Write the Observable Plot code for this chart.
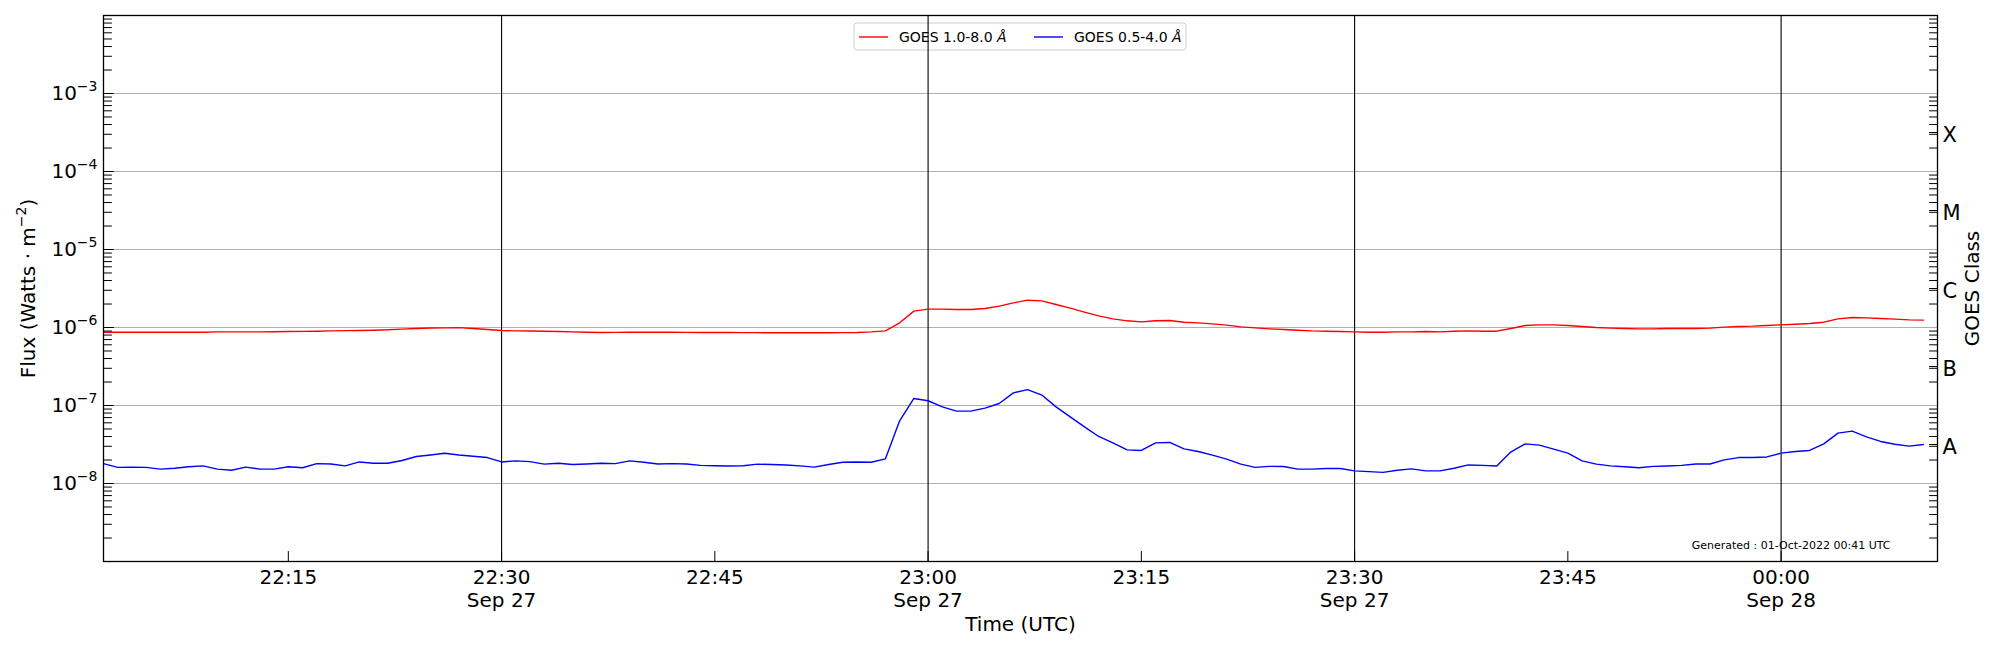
<!DOCTYPE html>
<html>
<head>
<meta charset="utf-8">
<script src="https://cdn.jsdelivr.net/npm/d3@7"></script>
<script src="https://cdn.jsdelivr.net/npm/@observablehq/plot@0.6"></script>
<style>
html, body { margin: 0; padding: 0; background: #ffffff; }
#chart { width: 2000px; height: 650px; }
</style>
</head>
<body>
<div id="chart"></div>
<script>
// ---------- data ----------
const startTime = "2022-09-27T22:02:00Z";   // first 1-minute sample
const xDomain = ["2022-09-27T22:02:00Z", "2022-09-28T00:11:00Z"];

// GOES 1.0-8.0 Å (W/m^2), one value per minute
const goesLong = [
  0.871e-6, 0.871e-6, 0.871e-6, 0.871e-6, 0.871e-6, 0.871e-6, 0.871e-6, 0.871e-6,
  0.880e-6, 0.880e-6, 0.880e-6, 0.880e-6, 0.884e-6, 0.889e-6, 0.893e-6, 0.897e-6,
  0.906e-6, 0.911e-6, 0.915e-6, 0.924e-6, 0.934e-6, 0.953e-6, 0.971e-6, 0.985e-6,
  0.990e-6, 0.995e-6, 0.971e-6, 0.943e-6, 0.915e-6, 0.906e-6, 0.902e-6, 0.897e-6,
  0.889e-6, 0.880e-6, 0.871e-6, 0.863e-6, 0.867e-6, 0.871e-6, 0.871e-6, 0.871e-6,
  0.871e-6, 0.867e-6, 0.863e-6, 0.863e-6, 0.863e-6, 0.859e-6, 0.859e-6, 0.855e-6,
  0.855e-6, 0.855e-6, 0.855e-6, 0.855e-6, 0.859e-6, 0.863e-6, 0.880e-6, 0.906e-6,
  1.148e-6, 1.620e-6, 1.718e-6, 1.718e-6, 1.701e-6, 1.701e-6, 1.752e-6, 1.877e-6,
  2.071e-6, 2.240e-6, 2.197e-6, 1.972e-6, 1.770e-6, 1.573e-6, 1.411e-6, 1.291e-6,
  1.218e-6, 1.182e-6, 1.218e-6, 1.229e-6, 1.170e-6, 1.148e-6, 1.114e-6, 1.071e-6,
  1.020e-6, 0.990e-6, 0.961e-6, 0.943e-6, 0.924e-6, 0.906e-6, 0.897e-6, 0.889e-6,
  0.880e-6, 0.871e-6, 0.871e-6, 0.880e-6, 0.880e-6, 0.889e-6, 0.880e-6, 0.897e-6,
  0.906e-6, 0.897e-6, 0.897e-6, 0.971e-6, 1.061e-6, 1.082e-6, 1.082e-6, 1.061e-6,
  1.030e-6, 1.000e-6, 0.981e-6, 0.971e-6, 0.961e-6, 0.961e-6, 0.971e-6, 0.971e-6,
  0.971e-6, 0.981e-6, 1.010e-6, 1.030e-6, 1.040e-6, 1.061e-6, 1.082e-6, 1.103e-6,
  1.125e-6, 1.170e-6, 1.291e-6, 1.343e-6, 1.330e-6, 1.304e-6, 1.279e-6, 1.254e-6,
  1.242e-6
];

// GOES 0.5-4.0 Å (W/m^2), one value per minute
const goesShort = [
  1.80e-8, 1.61e-8, 1.62e-8, 1.61e-8, 1.53e-8, 1.57e-8, 1.64e-8, 1.68e-8,
  1.53e-8, 1.48e-8, 1.62e-8, 1.53e-8, 1.53e-8, 1.64e-8, 1.59e-8, 1.80e-8,
  1.78e-8, 1.68e-8, 1.89e-8, 1.82e-8, 1.82e-8, 1.97e-8, 2.22e-8, 2.32e-8,
  2.44e-8, 2.32e-8, 2.24e-8, 2.15e-8, 1.89e-8, 1.95e-8, 1.91e-8, 1.77e-8,
  1.82e-8, 1.75e-8, 1.78e-8, 1.82e-8, 1.80e-8, 1.95e-8, 1.87e-8, 1.78e-8,
  1.80e-8, 1.78e-8, 1.71e-8, 1.69e-8, 1.68e-8, 1.69e-8, 1.77e-8, 1.75e-8,
  1.73e-8, 1.68e-8, 1.62e-8, 1.75e-8, 1.87e-8, 1.89e-8, 1.87e-8, 2.07e-8,
  6.36e-8, 12.3e-8, 11.5e-8, 9.61e-8, 8.46e-8, 8.46e-8, 9.24e-8, 10.6e-8,
  14.5e-8, 16.0e-8, 13.6e-8, 9.61e-8, 7.16e-8, 5.33e-8, 4.01e-8, 3.32e-8,
  2.70e-8, 2.65e-8, 3.32e-8, 3.36e-8, 2.78e-8, 2.57e-8, 2.31e-8, 2.05e-8,
  1.77e-8, 1.61e-8, 1.66e-8, 1.65e-8, 1.53e-8, 1.53e-8, 1.56e-8, 1.56e-8,
  1.45e-8, 1.42e-8, 1.39e-8, 1.48e-8, 1.54e-8, 1.45e-8, 1.45e-8, 1.57e-8,
  1.73e-8, 1.71e-8, 1.68e-8, 2.55e-8, 3.22e-8, 3.10e-8, 2.76e-8, 2.45e-8,
  1.95e-8, 1.77e-8, 1.68e-8, 1.64e-8, 1.59e-8, 1.66e-8, 1.68e-8, 1.71e-8,
  1.78e-8, 1.78e-8, 2.01e-8, 2.15e-8, 2.15e-8, 2.19e-8, 2.45e-8, 2.57e-8,
  2.65e-8, 3.22e-8, 4.42e-8, 4.69e-8, 3.97e-8, 3.46e-8, 3.19e-8, 3.01e-8,
  3.16e-8
];

const seriesLabels = ["GOES 1.0-8.0 ", "GOES 0.5-4.0 "];
const seriesColors = ["#ff0000", "#0000ff"];

const xTicks = [
  "2022-09-27T22:15:00Z", "2022-09-27T22:30:00Z", "2022-09-27T22:45:00Z",
  "2022-09-27T23:00:00Z", "2022-09-27T23:15:00Z", "2022-09-27T23:30:00Z",
  "2022-09-27T23:45:00Z", "2022-09-28T00:00:00Z"
];
const xTickLabels = ["22:15", "22:30\nSep 27", "22:45", "23:00\nSep 27", "23:15", "23:30\nSep 27", "23:45", "00:00\nSep 28"];
const xGridTimes = ["2022-09-27T22:30:00Z", "2022-09-27T23:00:00Z", "2022-09-27T23:30:00Z", "2022-09-28T00:00:00Z"];

const yDomain = [1e-9, 1e-2];
const yMajor = [1e-8, 1e-7, 1e-6, 1e-5, 1e-4, 1e-3];
const decadeExponents = [-9, -8, -7, -6, -5, -4, -3];
const minorSubs = [2, 3, 4, 5, 6, 7, 8, 9];

const classLabels = ["A", "B", "C", "M", "X"];
const classExponents = [-7.5, -6.5, -5.5, -4.5, -3.5];

// ---------- tables built from the arrays ----------
const t0 = new Date(startTime);
const rows = [];
goesLong.forEach((v, i) => rows.push({time: d3.utcMinute.offset(t0, i), value: v, series: 0}));
goesShort.forEach((v, i) => rows.push({time: d3.utcMinute.offset(t0, i), value: v, series: 1}));

const yMinor = [];
decadeExponents.forEach(e => minorSubs.forEach(s => yMinor.push(s * Math.pow(10, e))));
const classRows = classLabels.map((c, i) => ({label: c, value: Math.pow(10, classExponents[i])}));
const xTickDates = xTicks.map(d => new Date(d));
const xLabelMap = new Map(xTickDates.map((d, i) => [d.getTime(), xTickLabels[i]]));

const tickShape = {draw(ctx, l) { ctx.moveTo(0, 0); ctx.lineTo(0, -l); }};

const chart = Plot.plot({
  width: 2000,
  height: 650,
  marginLeft: 103,
  marginRight: 63,
  marginTop: 15,
  marginBottom: 89,
  style: {fontFamily: "'DejaVu Sans', sans-serif", fontSize: "20px", color: "black", background: "white"},
  x: {type: "utc", domain: xDomain.map(d => new Date(d))},
  y: {type: "log", domain: yDomain},
  marks: [
    Plot.ruleY(yMajor, {y: d => d, stroke: "#b0b0b0", strokeWidth: 1}),
    Plot.ruleX(xGridTimes, {x: d => new Date(d), stroke: "black", strokeWidth: 1.1}),
    Plot.line(rows.filter(r => r.series === 1), {x: "time", y: "value", stroke: seriesColors[1], strokeWidth: 1.4}),
    Plot.line(rows.filter(r => r.series === 0), {x: "time", y: "value", stroke: seriesColors[0], strokeWidth: 1.4}),
    Plot.frame({stroke: "black", strokeWidth: 1.3}),
    // inward ticks
    Plot.vector(yMinor, {y: d => d, frameAnchor: "left", rotate: 90, length: 8, anchor: "start", shape: tickShape, stroke: "black", strokeWidth: 1}),
    Plot.vector(yMajor, {y: d => d, frameAnchor: "left", rotate: 90, length: 10, anchor: "start", shape: tickShape, stroke: "black", strokeWidth: 1}),
    Plot.vector(yMinor, {y: d => d, frameAnchor: "right", rotate: -90, length: 8, anchor: "start", shape: tickShape, stroke: "black", strokeWidth: 1}),
    Plot.vector(classRows, {y: "value", frameAnchor: "right", rotate: -90, length: 8, anchor: "start", shape: tickShape, stroke: "black", strokeWidth: 1}),
    Plot.vector(xTickDates, {x: d => d, frameAnchor: "bottom", rotate: 0, length: 10, anchor: "start", shape: tickShape, stroke: "black", strokeWidth: 1}),
    // axes (labels only)
    Plot.axisY({anchor: "left", ticks: yMajor, tickSize: 0, tickPadding: 6, label: null,
      tickFormat: d => "10^" + Math.round(Math.log10(d))}),
    Plot.text(classRows, {y: "value", text: "label", frameAnchor: "right", dx: 5, dy: 3, textAnchor: "start", lineAnchor: "middle", fontSize: 21, fill: "black"}),
    Plot.axisX({ticks: xTickDates, tickSize: 0, tickPadding: 7, lineHeight: 1.12, label: null,
      tickFormat: d => xLabelMap.get(d.getTime())}),
    // titles
    Plot.text(["Time (UTC)"], {text: d => d, frameAnchor: "bottom", dy: 63, textAnchor: "middle", lineAnchor: "middle", fill: "black"}),
    Plot.text(["Flux (Watts \u00b7 m^-2)"], {text: d => d, frameAnchor: "left", dx: -75, rotate: -90, textAnchor: "middle", lineAnchor: "middle", fill: "black"}),
    Plot.text(["GOES Class"], {text: d => d, frameAnchor: "right", dx: 35, rotate: -90, textAnchor: "middle", lineAnchor: "middle", fill: "black"}),
    Plot.text(["Generated : 01-Oct-2022 00:41 UTC"], {text: d => d, frameAnchor: "bottom-right", dx: -47, dy: -16, textAnchor: "end", lineAnchor: "middle", fontSize: 11, fill: "black"})
  ]
});

document.getElementById("chart").appendChild(chart);

// superscripts (10^-3, m^-2)
d3.select(chart).selectAll("text").each(function () {
  const s = this.textContent;
  const m = s.match(/^(.*?)\^(-?\d+)(.*)$/);
  if (!m || this.querySelector("tspan")) return;
  const t = d3.select(this);
  t.text(m[1]);
  t.append("tspan").attr("font-size", 14).attr("dy", -9).text(m[2].replace("-", "\u2212"));
  if (m[3]) t.append("tspan").attr("font-size", 20).attr("dy", 9).text(m[3]);
});

// legend (upper centre, drawn beneath the grid lines)
const lg = d3.create("svg:g").attr("font-size", 14).attr("font-family", "'DejaVu Sans', sans-serif").attr("text-anchor", "start");
lg.append("rect").attr("x", 854).attr("y", 23).attr("width", 332).attr("height", 27).attr("rx", 3)
  .attr("fill", "white").attr("stroke", "#cccccc").attr("stroke-width", 1);
const itemX = [859, 1034];
seriesLabels.forEach((lab, i) => {
  lg.append("line").attr("x1", itemX[i]).attr("x2", itemX[i] + 29).attr("y1", 37).attr("y2", 37)
    .attr("stroke", seriesColors[i]).attr("stroke-width", 1.4);
  const tx = lg.append("text").attr("x", itemX[i] + 40).attr("y", 37).attr("dy", "0.35em")
    .attr("text-anchor", "start").attr("fill", "black").text(lab);
  tx.append("tspan").attr("font-style", "italic").text("\u00c5");
});
const firstMark = chart.querySelector("g");
chart.insertBefore(lg.node(), firstMark);
</script>
</body>
</html>
